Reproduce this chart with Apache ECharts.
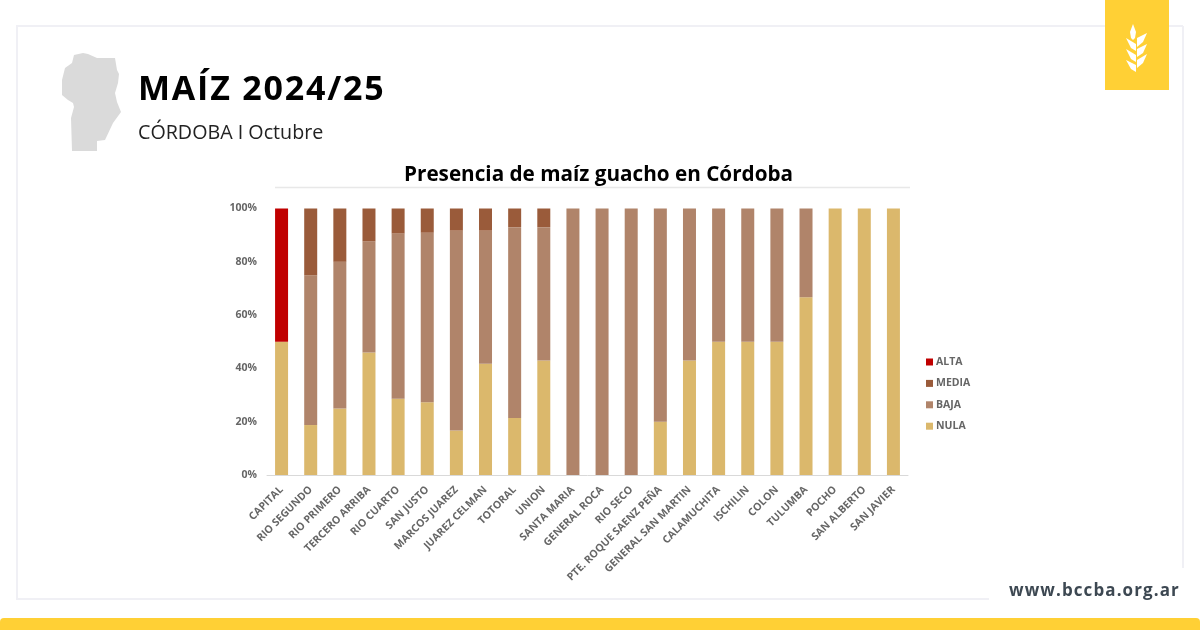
<!DOCTYPE html>
<html>
<head>
<meta charset="utf-8">
<style>
  html, body { margin: 0; padding: 0; background: #fff; }
  #wrap { position: relative; width: 1200px; height: 630px; overflow: hidden; }
  #main { width: 1200px; height: 630px; }
  .over { position: absolute; font-family: "Open Sans", sans-serif; font-weight: 700; white-space: nowrap; line-height: 1; }
  #heading { left: 138px; top: 70px; font-size: 34px; letter-spacing: 1.8px; color: #000; }
  #site { left: 1009px; top: 581px; font-size: 17px; letter-spacing: 1.1px; color: #3d4852; }
</style>
<script src="https://cdn.jsdelivr.net/npm/echarts@6/dist/echarts.min.js"></script>
</head>
<body>
<div id="wrap">
  <div id="main"></div>
  <div class="over" id="heading">MAÍZ 2024/25</div>
  <div class="over" id="site">www.bccba.org.ar</div>
</div>
<script>
const categories = ['CAPITAL', 'RIO SEGUNDO', 'RIO PRIMERO', 'TERCERO ARRIBA', 'RIO CUARTO', 'SAN JUSTO',
  'MARCOS JUAREZ', 'JUAREZ CELMAN', 'TOTORAL', 'UNION', 'SANTA MARIA', 'GENERAL ROCA', 'RIO SECO',
  'PTE. ROQUE SAENZ PEÑA', 'GENERAL SAN MARTIN', 'CALAMUCHITA', 'ISCHILIN', 'COLON', 'TULUMBA',
  'POCHO', 'SAN ALBERTO', 'SAN JAVIER']
const nula = [50, 18.75, 25, 46, 28.6, 27.3, 16.7, 41.7, 21.4, 43, 0, 0, 0, 20, 43, 50, 50, 50, 66.7, 100, 100, 100]
const baja = [0, 56.25, 55, 41.7, 62, 63.6, 75, 50, 71.6, 50, 100, 100, 100, 80, 57, 50, 50, 50, 33.3, 0, 0, 0]
const media = [0, 25, 20, 12.3, 9.4, 9.1, 8.3, 8.3, 7, 7, 0, 0, 0, 0, 0, 0, 0, 0, 0, 0, 0, 0]
const alta = [50, 0, 0, 0, 0, 0, 0, 0, 0, 0, 0, 0, 0, 0, 0, 0, 0, 0, 0, 0, 0, 0]

const FONT = '"Open Sans", sans-serif'
const YELLOW = '#ffd035'
const FRAME = '#f0f0f5'

// provincia de Cordoba
const mapShape = [[74, 55], [83, 53], [88, 54], [97, 58], [115, 58], [117, 70], [119, 74], [118, 83], [115, 93],
  [117, 102], [121, 112], [113, 123], [105, 140], [97, 141], [97, 151], [72, 151], [71, 118], [74, 107],
  [73, 103], [68, 100], [62, 95], [62, 80], [65, 68], [72, 63]]

// espiga del logo
const wheatLeaves = [
  [[1133, 24], [1136, 32], [1135, 38], [1133, 40], [1131, 38], [1130, 32]],
  [[1126, 38], [1136, 44], [1136, 51], [1131, 48]],
  [[1147, 33], [1137, 38], [1137, 47], [1143, 42]],
  [[1126, 49], [1136, 55], [1136, 62], [1131, 59]],
  [[1147, 44], [1137, 49], [1137, 57], [1143, 53]],
  [[1126, 60], [1136, 65], [1136, 72], [1131, 69]],
  [[1147, 54], [1137, 60], [1137, 68], [1143, 63]]
]

function line(x1, y1, x2, y2, color, width) {
  return { type: 'line', silent: true, shape: { x1, y1, x2, y2 }, style: { stroke: color, lineWidth: width } }
}

const graphic = [
  line(16, 26, 1183, 26, FRAME, 2),
  line(17, 26, 17, 599, FRAME, 2),
  line(16, 599, 989, 599, FRAME, 2),
  line(1183, 26, 1183, 568, FRAME, 2),
  line(275, 187.5, 910, 187.5, '#e8e8e8', 1.5),
  { type: 'polygon', silent: true, shape: { points: mapShape }, style: { fill: '#dadada' } },
  { type: 'rect', silent: true, shape: { x: 1105, y: 0, width: 64, height: 90 }, style: { fill: YELLOW } },
  ...wheatLeaves.map(points => ({ type: 'polygon', silent: true, shape: { points }, style: { fill: '#fff' } })),
  { type: 'rect', silent: true, shape: { x: 0, y: 618, width: 1200, height: 12, r: [4, 4, 0, 0] }, style: { fill: YELLOW } },
  { type: 'text', silent: true, x: 138, y: 123, style: { text: 'CÓRDOBA I Octubre', fill: '#222', font: '400 19.7px ' + FONT } },
  { type: 'text', silent: true, x: 404, y: 165, style: { text: 'Presencia de maíz guacho en Córdoba', fill: '#000', font: '700 20.7px ' + FONT } }
]

function stack(name, data, color) {
  return { name, type: 'bar', stack: 'total', data, barWidth: 13, itemStyle: { color } }
}

const chart = echarts.init(document.getElementById('main'), null, { renderer: 'canvas' })
chart.setOption({
  animation: false,
  backgroundColor: '#fff',
  graphic,
  grid: { left: 267, width: 641, top: 208.5, height: 266.5, containLabel: false },
  legend: {
    orient: 'vertical',
    left: 921,
    top: 351.5,
    itemWidth: 7,
    itemHeight: 7,
    itemGap: 10.4,
    icon: 'rect',
    data: ['ALTA', 'MEDIA', 'BAJA', 'NULA'],
    textStyle: { color: '#666', fontFamily: FONT, fontSize: 10.5, fontWeight: 700, padding: [0, 0, 0, -2] }
  },
  xAxis: {
    type: 'category',
    data: categories,
    axisTick: { show: false },
    axisLine: { lineStyle: { color: '#d9d9d9', width: 1 } },
    axisLabel: { interval: 0, rotate: 45, margin: 13, color: '#666', fontFamily: FONT, fontSize: 10.5, fontWeight: 700 }
  },
  yAxis: {
    type: 'value',
    min: 0,
    max: 100,
    interval: 20,
    splitLine: { show: false },
    axisLine: { show: false },
    axisTick: { show: false },
    axisLabel: { formatter: '{value}%', margin: 10, color: '#666', fontFamily: FONT, fontSize: 10.5, fontWeight: 700, padding: [3, 0, 0, 0] }
  },
  series: [
    stack('NULA', nula, '#dbb86c'),
    stack('BAJA', baja, '#b0846a'),
    stack('MEDIA', media, '#9a5b3a'),
    stack('ALTA', alta, '#c00000')
  ]
})
</script>
</body>
</html>
